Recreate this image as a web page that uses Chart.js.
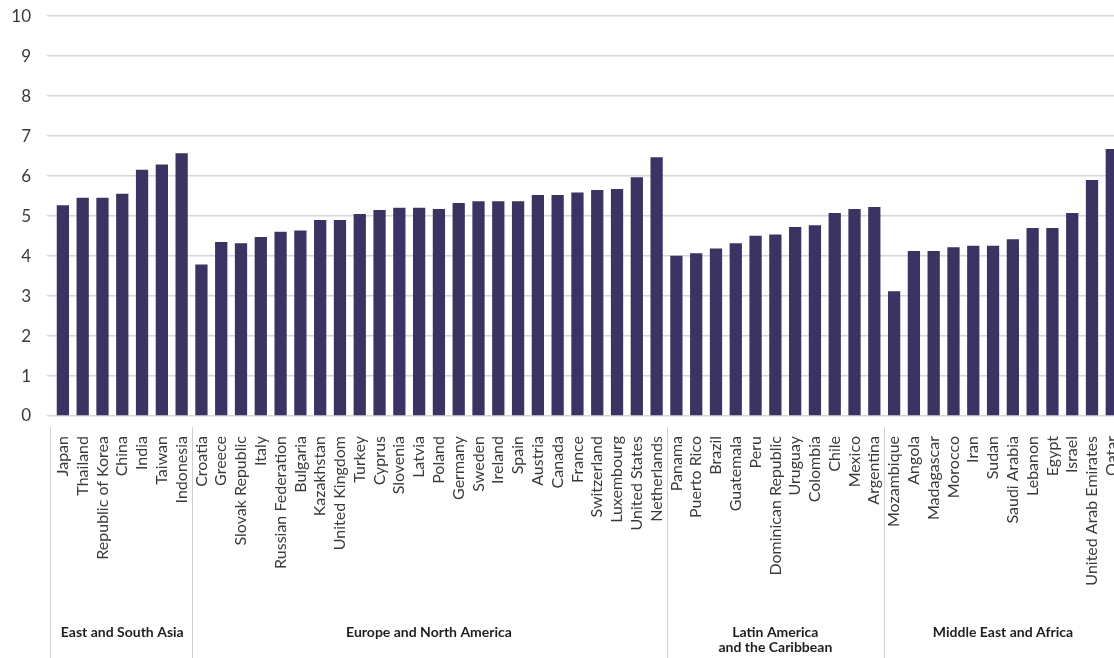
<!DOCTYPE html>
<html>
<head>
<meta charset="utf-8">
<script src="https://cdn.jsdelivr.net/npm/chart.js@4"></script>
<style>
  html, body { margin: 0; padding: 0; background: #fff; overflow: hidden; }
  #wrap { width: 1143px; height: 668px; margin-top: -10px; }
</style>
</head>
<body>
<div id="wrap"><canvas id="chart"></canvas></div>
<script>
const countries = [
    'Japan', 'Thailand', 'Republic of Korea', 'China', 'India', 'Taiwan', 'Indonesia',
    'Croatia', 'Greece', 'Slovak Republic', 'Italy', 'Russian Federation', 'Bulgaria',
    'Kazakhstan', 'United Kingdom', 'Turkey', 'Cyprus', 'Slovenia', 'Latvia', 'Poland',
    'Germany', 'Sweden', 'Ireland', 'Spain', 'Austria', 'Canada', 'France', 'Switzerland',
    'Luxembourg', 'United States', 'Netherlands',
    'Panama', 'Puerto Rico', 'Brazil', 'Guatemala', 'Peru', 'Dominican Republic', 'Uruguay',
    'Colombia', 'Chile', 'Mexico', 'Argentina',
    'Mozambique', 'Angola', 'Madagascar', 'Morocco', 'Iran', 'Sudan', 'Saudi Arabia',
    'Lebanon', 'Egypt', 'Israel', 'United Arab Emirates', 'Qatar'
];

const scores = [
    5.27, 5.46, 5.46, 5.56, 6.16, 6.29, 6.57,
    3.79, 4.35, 4.32, 4.48, 4.61, 4.64,
    4.90, 4.90, 5.05, 5.15, 5.21, 5.21, 5.18,
    5.33, 5.37, 5.37, 5.37, 5.53, 5.53, 5.59, 5.65,
    5.68, 5.97, 6.47,
    4.01, 4.07, 4.19, 4.32, 4.51, 4.54, 4.73,
    4.77, 5.08, 5.18, 5.23,
    3.12, 4.13, 4.13, 4.22, 4.26, 4.26, 4.42,
    4.70, 4.70, 5.08, 5.90, 6.68
];

// region name (lines) and number of countries in each
const regionNames = [
    ['East and South Asia'],
    ['Europe and North America'],
    ['Latin America', 'and the Caribbean'],
    ['Middle East and Africa']
];
const regionSizes = [7, 24, 11, 12];

const yTicks = [0, 1, 2, 3, 4, 5, 6, 7, 8, 9, 10];

const regionPlugin = {
    id: 'regions',
    afterDraw: (chart) => {
        const ctx = chart.ctx;
        const x = chart.scales.x;
        const area = chart.chartArea;
        const step = x.getPixelForValue(1) - x.getPixelForValue(0);
        const lineTop = area.bottom + 11;
        const lineBottom = chart.height;

        ctx.save();
        ctx.strokeStyle = '#cfcfcf';
        ctx.lineWidth = 1;
        let start = 0;
        const edges = [x.getPixelForValue(0) - step / 2];
        regionSizes.forEach((n) => {
            start += n;
            edges.push(x.getPixelForValue(start - 1) + step / 2);
        });
        edges.slice(0, -1).forEach((ex, i) => {
            // the first line sits a little left of the plot edge
            const px = Math.round(i === 0 ? ex - 3 : ex) + 0.5;
            ctx.beginPath();
            ctx.moveTo(px, lineTop);
            ctx.lineTo(px, lineBottom);
            ctx.stroke();
        });

        ctx.fillStyle = '#1f1f1f';
        ctx.font = 'bold 14px Lato';
        ctx.textAlign = 'center';
        ctx.textBaseline = 'middle';
        regionNames.forEach((lines, i) => {
            const cx = (edges[i] + edges[i + 1]) / 2;
            lines.forEach((t, j) => {
                ctx.fillText(t, cx, area.bottom + 216 + j * 15);
            });
        });
        ctx.restore();
    }
};

document.addEventListener('DOMContentLoaded', function () {
    new Chart(document.getElementById('chart'), {
        type: 'bar',
        data: {
            labels: countries,
            datasets: [{
                data: scores,
                backgroundColor: '#3b3462',
                borderWidth: 0,
                categoryPercentage: 1,
                barPercentage: 0.62
            }]
        },
        options: {
            responsive: true,
            maintainAspectRatio: false,
            animation: false,
            layout: { padding: 0 },
            plugins: {
                legend: { display: false },
                tooltip: { enabled: false }
            },
            scales: {
                x: {
                    grid: { display: false },
                    border: { display: false },
                    ticks: {
                        autoSkip: false,
                        minRotation: 90,
                        maxRotation: 90,
                        padding: 12,
                        color: '#3a3a3a',
                        font: { family: 'Lato', size: 16 }
                    },
                    afterFit: (scale) => { scale.height = 242; }
                },
                y: {
                    min: 0,
                    max: 10,
                    afterBuildTicks: (scale) => {
                        scale.ticks = yTicks.map(v => ({ value: v }));
                    },
                    grid: {
                        color: '#d6d6d6',
                        lineWidth: 1.5,
                        drawTicks: true,
                        tickLength: 6
                    },
                    border: { display: false },
                    ticks: {
                        padding: 16,
                        color: '#3a3a3a',
                        font: { family: 'Lato', size: 17 }
                    },
                    afterFit: (scale) => { scale.width = 53; }
                }
            }
        },
        plugins: [regionPlugin]
    });
});
</script>
</body>
</html>
